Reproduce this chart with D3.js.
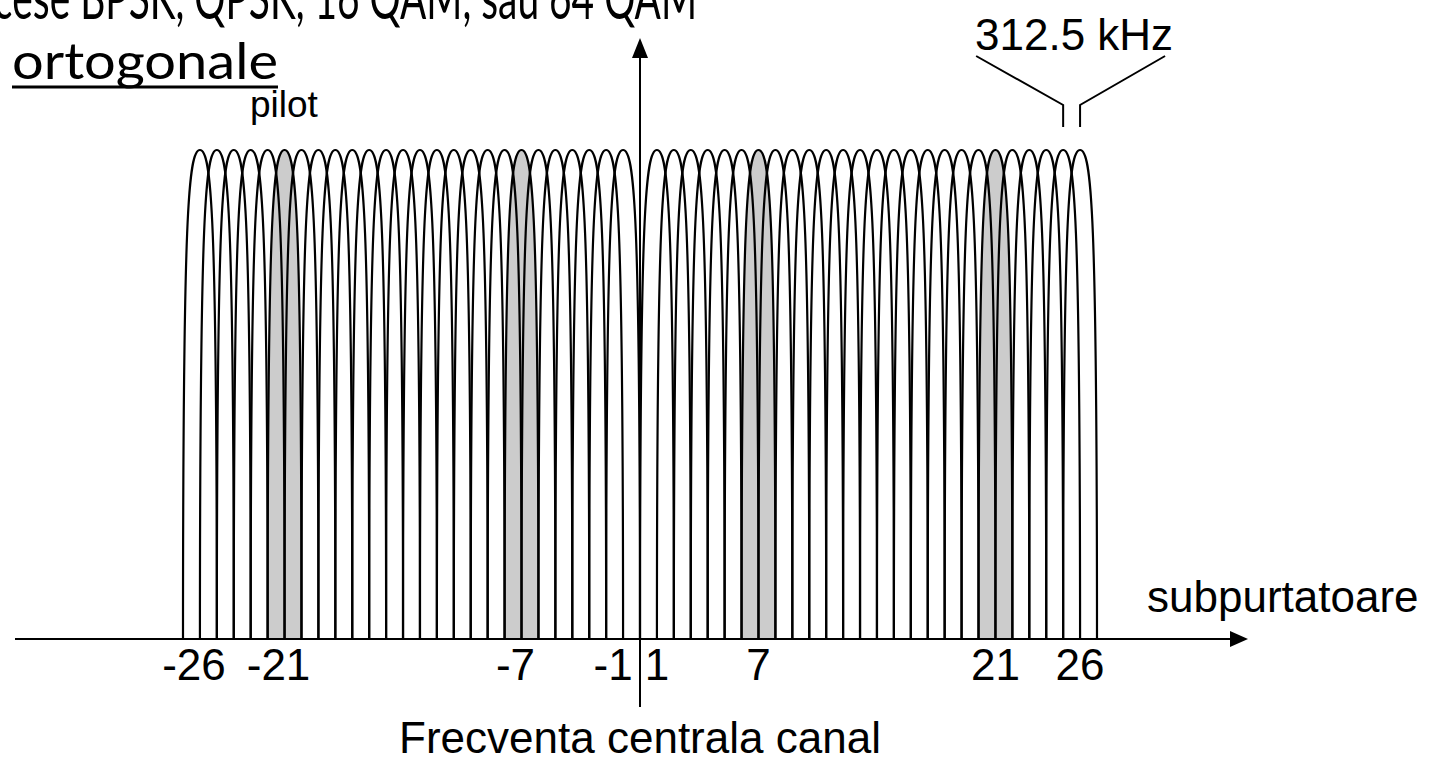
<!DOCTYPE html>
<html>
<head>
<meta charset="utf-8">
<script src="https://cdn.jsdelivr.net/npm/d3@7"></script>
<style>
    html, body { margin: 0; padding: 0; background: #fff; overflow: hidden; }
    svg { display: block; }
    .arial { font-family: "Liberation Sans", Arial, sans-serif; fill: #000; }
    .calibri { font-family: Lato, "Open Sans", sans-serif; fill: #000; }
</style>
</head>
<body>
<div id="ofdm-container"></div>
<script>
// subcarrier indices (no carrier at 0)
const subcarriers = [-26, -25, -24, -23, -22, -21, -20, -19, -18, -17, -16, -15, -14,
    -13, -12, -11, -10, -9, -8, -7, -6, -5, -4, -3, -2, -1,
    1, 2, 3, 4, 5, 6, 7, 8, 9, 10, 11, 12, 13,
    14, 15, 16, 17, 18, 19, 20, 21, 22, 23, 24, 25, 26];
const pilots = [-21, -7, 7, 21];
const tickLabels = [-26, -21, -7, -1, 1, 7, 21, 26];
const spacingPair = [25, 26];
const amplitude = 1;

const titleHidden = "Subpurtatoare modulate cu proc";
const titleVisible = "ese BPSK, QPSK, 16 QAM, sau 64 QAM";
const subtitleText = "ortogonale";
const pilotText = "pilot";
const spacingText = "312.5 kHz";
const xAxisText = "subpurtatoare";
const yAxisText = "Frecventa centrala canal";

const width = 1441;
const height = 768;
const plot = {left: 183, right: 1097, base: 639, top: 150};

function drawChart() {
    const svg = d3.select("#ofdm-container").append("svg")
        .attr("width", width)
        .attr("height", height);

    const x = d3.scaleLinear()
        .domain([-27, 27])
        .range([plot.left, plot.right]);

    const y = d3.scaleLinear()
        .domain([0, amplitude])
        .range([plot.base, plot.top]);

    // one main lobe per subcarrier, from k-1 to k+1
    const carrierPath = k => {
        const p = d3.path();
        const shoulder = y(amplitude * 0.88);
        p.moveTo(x(k - 1), y(0));
        p.bezierCurveTo(x(k - 1), shoulder, x(k - 0.68), y(amplitude), x(k), y(amplitude));
        p.bezierCurveTo(x(k + 0.68), y(amplitude), x(k + 1), shoulder, x(k + 1), y(0));
        return p.toString();
    };

    svg.append("g").selectAll("path")
        .data(pilots)
        .join("path")
        .attr("d", carrierPath)
        .style("fill", "#cccccc")
        .style("stroke", "none");

    svg.append("g").selectAll("path")
        .data(subcarriers)
        .join("path")
        .attr("d", carrierPath)
        .style("fill", "none")
        .style("stroke", "#000")
        .style("stroke-width", 2.2);

    // horizontal axis with arrow
    const axisY = y(0);
    svg.append("line")
        .attr("x1", 15).attr("x2", 1234)
        .attr("y1", axisY).attr("y2", axisY)
        .style("stroke", "#000").style("stroke-width", 2);
    svg.append("path")
        .attr("d", `M1248,${axisY} L1230,${axisY - 8} L1230,${axisY + 8} Z`)
        .style("fill", "#000");

    // vertical axis with arrow
    const axisX = x(0);
    svg.append("line")
        .attr("x1", axisX).attr("x2", axisX)
        .attr("y1", 54).attr("y2", 707)
        .style("stroke", "#000").style("stroke-width", 2);
    svg.append("path")
        .attr("d", `M${axisX},38 L${axisX - 8},58 L${axisX + 8},58 Z`)
        .style("fill", "#000");

    // tick labels
    svg.append("g").selectAll("text")
        .data(tickLabels)
        .join("text")
        .attr("class", "arial")
        .attr("x", d => x(d) + (d === -1 ? -10 : d < 0 ? -6 : 0))
        .attr("y", 680)
        .attr("text-anchor", "middle")
        .style("font-size", "44px")
        .text(d => d);

    // spacing bracket between two neighbouring peaks
    const peakY = y(amplitude);
    const b0 = x(spacingPair[0]), b1 = x(spacingPair[1]);
    svg.append("path")
        .attr("d", `M${b0},${peakY - 23} L${b0},${peakY - 45} L${b0 - 87},${peakY - 94}` +
            ` M${b1},${peakY - 23} L${b1},${peakY - 45} L${b1 + 85},${peakY - 94}`)
        .style("fill", "none")
        .style("stroke", "#000")
        .style("stroke-width", 2);

    svg.append("text")
        .attr("class", "arial")
        .attr("x", 975).attr("y", 50)
        .style("font-size", "44px")
        .text(spacingText);

    svg.append("text")
        .attr("class", "arial")
        .attr("x", 250).attr("y", 117)
        .style("font-size", "37px")
        .text(pilotText);

    svg.append("text")
        .attr("class", "arial")
        .attr("x", 1147).attr("y", 612)
        .style("font-size", "44px")
        .text(xAxisText);

    svg.append("text")
        .attr("class", "arial")
        .attr("x", axisX).attr("y", 753)
        .attr("text-anchor", "middle")
        .style("font-size", "44px")
        .text(yAxisText);

    // title cut off by the top edge, narrowed to look like Calibri
    const title = svg.append("g");
    const titleText = title.append("text")
        .attr("class", "calibri")
        .attr("text-anchor", "end")
        .style("font-size", "60px");
    titleText.append("tspan").text(titleHidden);
    const vis = titleText.append("tspan").text(titleVisible);
    const visLen = vis.node().getComputedTextLength();
    const sx = 685 / visLen;
    title.attr("transform", `translate(697,19) scale(${sx},1)`);

    svg.append("text")
        .attr("class", "calibri")
        .attr("x", 12).attr("y", 79)
        .attr("textLength", 266)
        .attr("lengthAdjust", "spacingAndGlyphs")
        .style("font-size", "51px")
        .text(subtitleText);
    svg.append("line")
        .attr("x1", 12).attr("x2", 278)
        .attr("y1", 87).attr("y2", 87)
        .style("stroke", "#000").style("stroke-width", 3);
}

drawChart();
</script>
</body>
</html>
